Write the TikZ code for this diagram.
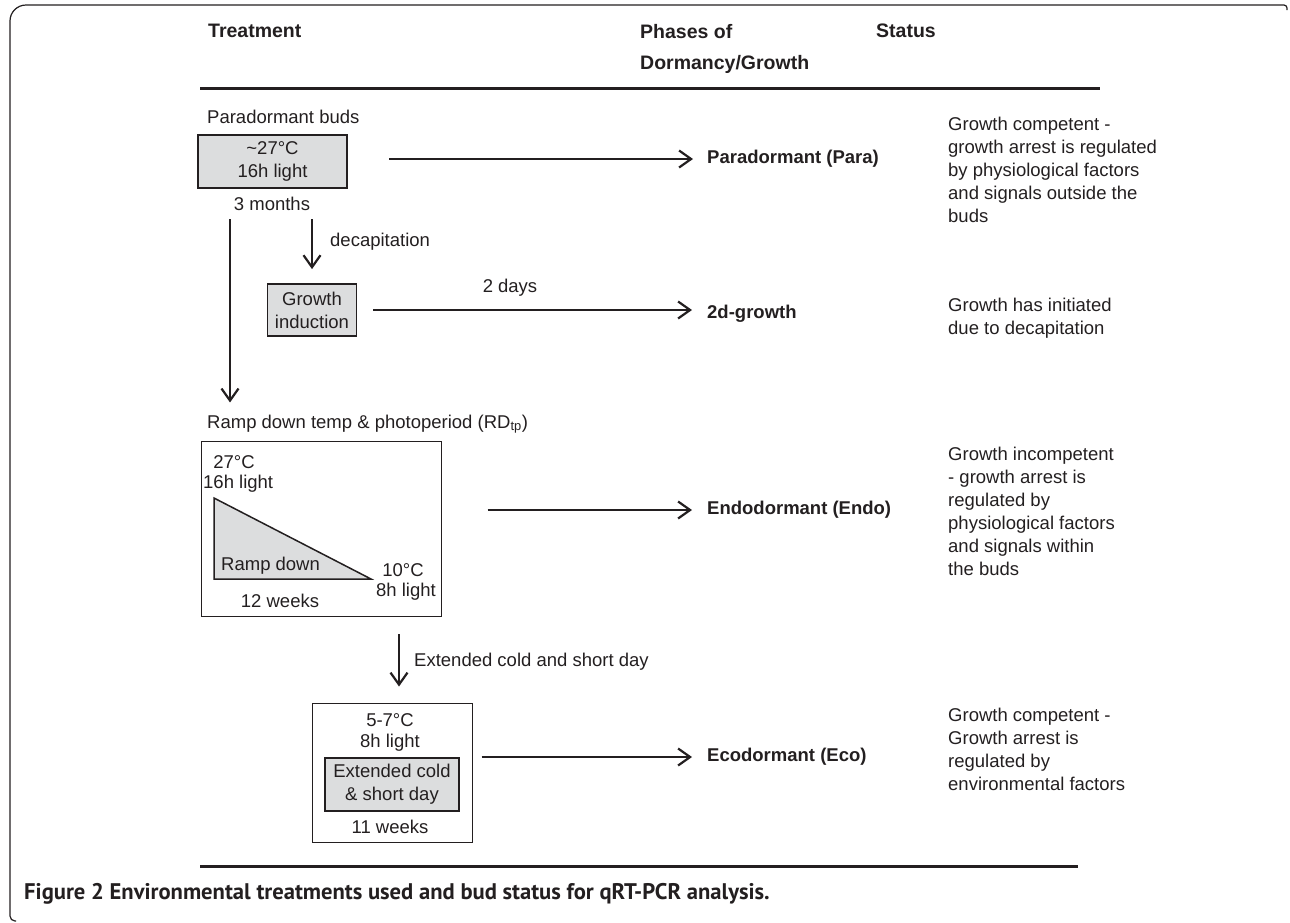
\documentclass[tikz,border=0pt]{standalone}
\usepackage{fontspec}
\setmainfont{Liberation Sans}
\newfontfamily\capfont{PT Sans}
\usetikzlibrary{arrows.meta}
\definecolor{ink}{HTML}{231F20}
\definecolor{boxgray}{HTML}{DCDDDE}
\begin{document}
\begin{tikzpicture}[x=1pt,y=-1pt,
  every node/.style={text=ink, inner sep=0pt},
  txt/.style={font=\fontsize{18.5}{23}\selectfont},
  hdr/.style={font=\fontsize{19.5}{31}\selectfont\bfseries, anchor=north west, align=left},
  phase/.style={font=\fontsize{18.5}{23}\selectfont\bfseries, anchor=west},
  status/.style={txt, anchor=north west, align=left},
  graybox/.style={draw=ink, line width=1.8pt, fill=boxgray, align=center, txt},
  thinbox/.style={draw=ink, line width=1pt},
  arr/.style={draw=ink, line width=2.2pt, -{Straight Barb[length=12pt,width=17pt,line width=2.2pt]}},
  rule/.style={draw=ink, line width=3pt},
]
\useasboundingbox (0,0) rectangle (1290,922);
% frame
\draw[ink, line width=1.2pt] (16,921) [rounded corners=5pt] -- (10,921) [rounded corners=16pt] -- (10,5) [rounded corners=3pt] -- (1287,5) -- (1287,10);
% headers
\node[hdr] (hT) at (208,24) {Treatment};
\node[hdr] (hP) at (640,24) {Phases of\\Dormancy/Growth};
\node[hdr] (hS) at (876,24) {Status};
\draw[rule] (200,88) -- (1100,88);
% paradormant
\node[txt, anchor=west] (pbuds) at (207,117) {Paradormant buds};
\node[graybox, minimum width=149, minimum height=53] (box1) at (272.5,161.5) {\textasciitilde 27°C\\16h light};
\node[txt] (m3) at (272,204) {3 months};
\node[phase] (para) at (707,159) {Paradormant (Para)};
\coordinate (a1s) at (389,159);
\draw[arr, shorten >=14pt] (a1s) -- (a1s -| para.west);
\node[status] (s1) at (948,117) {Growth competent -\\growth arrest is regulated\\by physiological factors\\and signals outside the\\buds};
% growth induction
\node[graybox, minimum width=89, minimum height=52] (gi) at (312,310) {Growth\\induction};
\draw[arr, shorten <=8pt, shorten >=14pt] (gi.north |- m3.south) -- (gi.north);
\node[txt, anchor=west] (decap) at (330,242) {decapitation};
\node[txt] (days) at (510,288) {2 days};
\node[phase] (d2) at (707,314) {2d-growth};
\draw[arr, shorten <=16pt, shorten >=15pt] (gi.east) -- (gi.east -| d2.west);
\node[status] (s2) at (948,298) {Growth has initiated\\due to decapitation};
% ramp down
\node[txt, anchor=west] (rd) at (207,424) {Ramp down temp \& photoperiod (RD\textsubscript{tp})};
\coordinate (v1s) at (230,219);
\draw[arr, shorten >=12pt] (v1s) -- (v1s |- rd.north);
\node[thinbox, minimum width=240, minimum height=175] (rbox) at (321,528.5) {};
\fill[boxgray, draw=ink, line width=1.5pt] (214,498) -- (214,579) -- (371,579) -- cycle;
\node[txt] (t27) at (234,462) {27°C};
\node[txt, anchor=west] (t16) at (203,484) {16h light};
\node[txt, anchor=west] (trd) at (221,566) {Ramp down};
\node[txt] (t10) at (403,570) {10°C};
\node[txt] (t8) at (406,592) {8h light};
\node[txt] (t12) at (280,601) {12 weeks};
\node[phase] (endo) at (707,510) {Endodormant (Endo)};
\draw[arr, shorten <=46pt, shorten >=15pt] (rbox.east |- endo.west) -- (endo.west);
\node[status] (s3) at (948,447) {Growth incompetent\\- growth arrest is\\regulated by\\physiological factors\\and signals within\\the buds};
% ecodormant
\node[thinbox, minimum width=160, minimum height=139] (ebox) at (392,772.5) {};
\coordinate (v3s) at (399,634);
\draw[arr, shorten >=16pt] (v3s) -- (v3s |- ebox.north);
\node[txt, anchor=west] (ext) at (414,662) {Extended cold and short day};
\node[graybox, minimum width=134, minimum height=53] (ecs) at (392,784.5) {Extended cold\\\& short day};
\node[txt] (t57) at (390,720) {5-7°C};
\node[txt] (t8b) at (390,743) {8h light};
\node[txt] (t11) at (390,827) {11 weeks};
\node[phase] (eco) at (707,757) {Ecodormant (Eco)};
\draw[arr, shorten <=9pt, shorten >=15pt] (ebox.east |- eco.west) -- (eco.west);
\node[status] (s4) at (948,708) {Growth competent -\\Growth arrest is\\regulated by\\environmental factors};
% bottom
\draw[rule] (200,866) -- (1078,866);
\node[anchor=west, font=\capfont\bfseries\fontsize{22.6}{26}\selectfont] (cap) at (24,894) {Figure 2 Environmental treatments used and bud status for qRT-PCR analysis.};
\end{tikzpicture}
\end{document}
